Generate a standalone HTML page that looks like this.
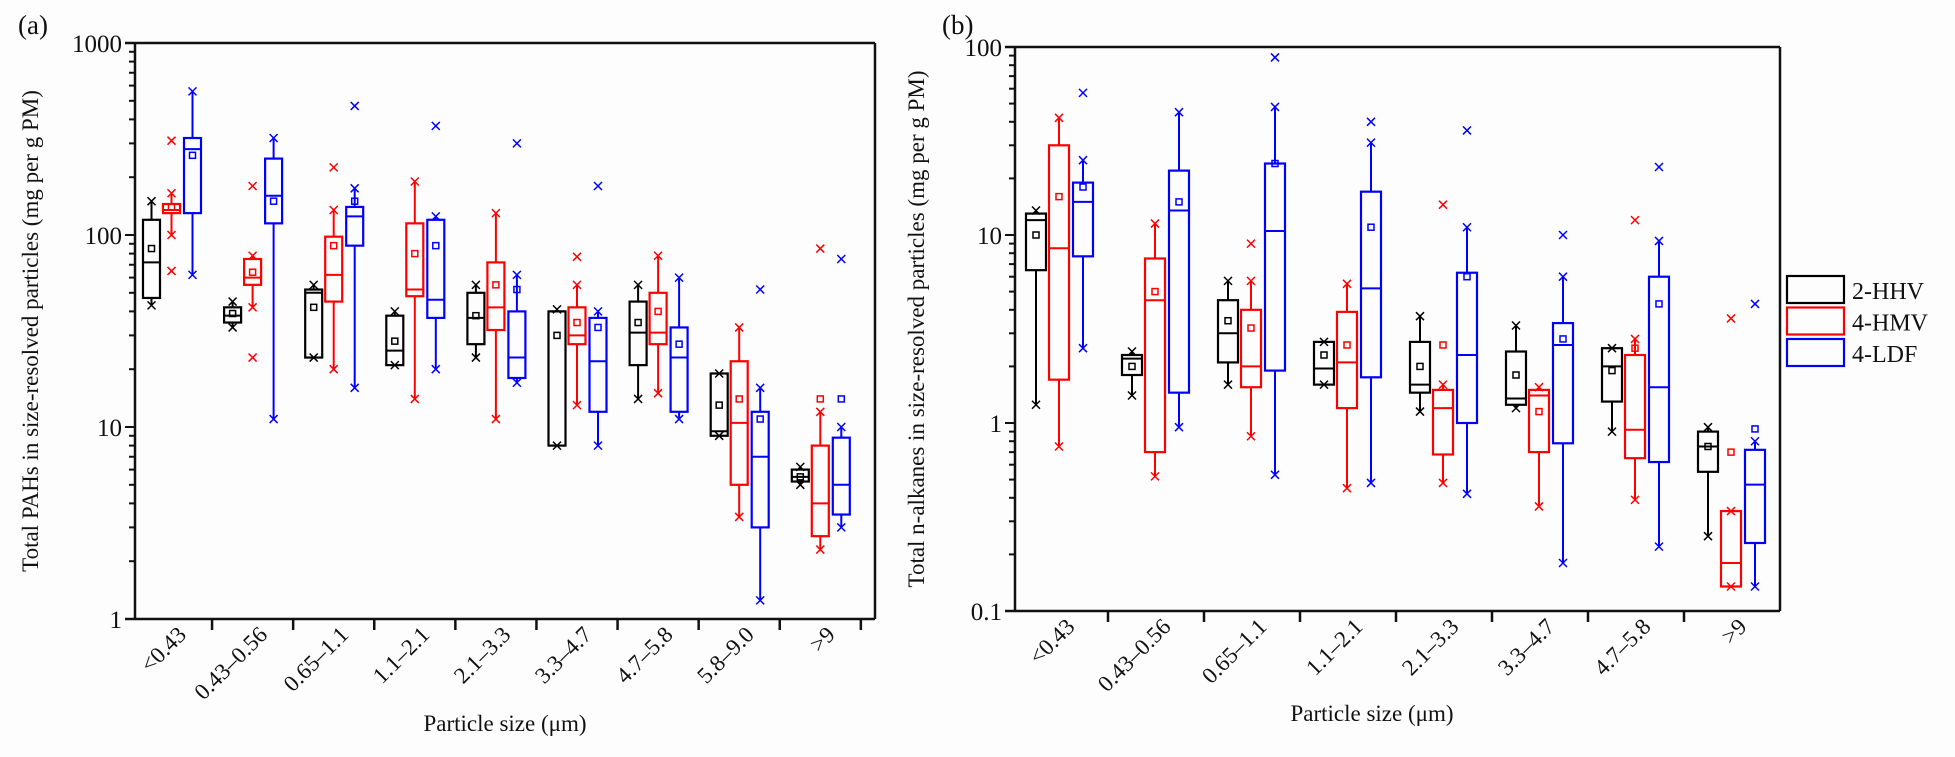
<!DOCTYPE html>
<html><head><meta charset="utf-8"><style>
html,body{margin:0;padding:0;background:#fff;}
svg{display:block;font-family:"Liberation Serif",serif;}
</style></head><body>
<svg id="chart" width="1955" height="757" viewBox="0 0 1955 757" xmlns="http://www.w3.org/2000/svg">
<rect x="0" y="0" width="1955" height="757" fill="#fdfdfd"/>
<g id="pa"></g>
<g id="pb"></g>
<g id="legend"></g>
</svg>
<script>
const NS="http://www.w3.org/2000/svg";
const seriesNames=["2-HHV","4-HMV","4-LDF"];
const seriesColors=["#000","#ff0000","#0000ff"];
// Panel A data: [whiskerLow, q1, median, q3, whiskerHigh, mean]
const catsA=["<0.43","0.43\u20130.56","0.65\u20131.1","1.1\u20132.1","2.1\u20133.3","3.3\u20134.7","4.7\u20135.8","5.8\u20139.0",">9"];
const a_HHV=[[43,47,72,120,150,85],[33,35,38,42,45,39],[23,23,50,52,55,42],[21,21,25,38,40,28],[23,27,37,50,55,38],[8,8,40,40,41,30],[14,21,31,45,55,35],[9,9,9.5,19,19,13],[5,5.2,5.5,6,6.2,5.5]];
const a_HMV=[[100,130,135,145,165,140],[42,55,60,75,78,64],[20,45,62,98,135,88],[14,48,52,115,190,80],[11,32,42,72,130,55],[13,27,30,42,55,35],[15,27,31,50,78,40],[3.4,5,10.5,22,33,14],[2.3,2.7,4,8,12,14]];
const a_LDF=[[62,130,280,320,560,260],[11,115,160,250,320,150],[16,88,125,140,175,150],[20,37,46,120,125,88],[17,18,23,40,62,52],[8,12,22,37,40,33],[11,12,23,33,60,27],[1.25,3,7,12,16,11],[3,3.5,5,8.8,10,14]];
const a_out_HHV=[[],[],[],[],[],[],[],[],[]];
const a_out_HMV=[[310,65],[180,23],[225],[],[],[77],[],[],[85]];
const a_out_LDF=[[],[],[470],[370],[300],[180],[],[52],[75]];
// Panel B data
const catsB=["<0.43","0.43\u20130.56","0.65\u20131.1","1.1\u20132.1","2.1\u20133.3","3.3\u20134.7","4.7\u20135.8",">9"];
const b_HHV=[[1.25,6.5,12,13,13.5,10],[1.4,1.8,2.2,2.3,2.4,2.0],[1.6,2.1,3,4.5,5.7,3.5],[1.6,1.6,1.95,2.7,2.7,2.3],[1.15,1.45,1.6,2.7,3.7,2.0],[1.2,1.25,1.35,2.4,3.3,1.8],[0.9,1.3,2.0,2.5,2.5,1.9],[0.25,0.55,0.75,0.9,0.95,0.75]];
const b_HMV=[[0.75,1.7,8.5,30,42,16],[0.52,0.7,4.5,7.5,11.5,5],[0.85,1.55,2,4,5.7,3.2],[0.45,1.2,2.1,3.9,5.5,2.6],[0.48,0.68,1.2,1.5,1.6,2.6],[0.36,0.7,1.4,1.5,1.55,1.15],[0.39,0.65,0.92,2.3,2.8,2.5],[0.135,0.135,0.18,0.34,0.34,0.7]];
const b_LDF=[[2.5,7.7,15,19,25,18],[0.95,1.45,13.5,22,45,15],[0.53,1.9,10.5,24,48,24],[0.48,1.75,5.2,17,31,11],[0.42,1.0,2.3,6.3,11,6],[0.18,0.78,2.6,3.4,6,2.8],[0.22,0.62,1.55,6,9.3,4.3],[0.135,0.23,0.47,0.72,0.8,0.93]];
const b_out_HHV=[[],[],[],[],[],[],[],[]];
const b_out_HMV=[[],[],[9],[],[14.5],[],[12],[3.6]];
const b_out_LDF=[[57],[],[88],[40],[36],[10],[23],[4.3]];
const ticksA=[1,10,100,1000];
const ticksB=[0.1,1,10,100];

function el(parent,tag,attrs,name,inter){const e=document.createElementNS(NS,tag);for(const k in attrs)e.setAttribute(k,attrs[k]);


parent.appendChild(e);return e;}

function panel(g,cfg){
  const {left,right,top,bottom,ymin,ymax,cats,c0,cw,off,bw,series,outs,ticks,title,label,labx,xtitleX,xtitleY,ytitleX}=cfg;
  const dec=Math.log10(ymax)-Math.log10(ymin);
  const y=v=>bottom-(Math.log10(v)-Math.log10(ymin))/dec*(bottom-top);
  const x=i=>c0+i*cw;
  el(g,'line',{x1:left-10,y1:top,x2:right,y2:top,stroke:'#111','stroke-width':2.5},'top-axis-line',false);
  el(g,'line',{x1:right,y1:top,x2:right,y2:bottom,stroke:'#111','stroke-width':2.5},'right-axis-line',false);
  el(g,'line',{x1:left,y1:top,x2:left,y2:bottom,stroke:'#111','stroke-width':2.5},'y-axis-line',false);
  el(g,'line',{x1:left-10,y1:bottom,x2:right,y2:bottom,stroke:'#111','stroke-width':2.5},'x-axis-line',false);
  for(let d=0;d<ticks.length;d++){
    const v=ticks[d];
    el(g,'line',{x1:left-10,y1:y(v),x2:left,y2:y(v),stroke:'#111','stroke-width':2},'y-major-tick',false);
    const t=el(g,'text',{x:left-13,y:y(v)+9,'text-anchor':'end','font-size':25,fill:'#111'},'y-tick-label',false);t.textContent=String(v);
    if(d<ticks.length-1){for(let m=2;m<=9;m++){const yy=y(v*m);
      el(g,'line',{x1:left-6,y1:yy,x2:left,y2:yy,stroke:'#111','stroke-width':2},'y-minor-tick',false);}}
  }
  for(let i=0;i<cats.length;i++){
    const bx=x(i)+cw/2;
    if(bx<right-5) el(g,'line',{x1:bx,y1:bottom,x2:bx,y2:bottom+11,stroke:'#111','stroke-width':2.5},'x-tick',false);
    const t=el(g,'text',{x:0,y:0,'text-anchor':'end','font-size':23,fill:'#111',transform:`translate(${x(i)+16},${bottom+17}) rotate(-45)`},'x-tick-label',false);
    t.textContent=cats[i];
  }
  for(let s=0;s<3;s++){
    const col=seriesColors[s];
    for(let i=0;i<cats.length;i++){
      const d=series[s][i];const cx=x(i)+off[s];
      const bg=el(g,'g',{},`box-${seriesNames[s].toLowerCase()}-${i}`,false);
      el(bg,'line',{x1:cx,y1:y(d[0]),x2:cx,y2:y(d[1]),stroke:col,'stroke-width':2},'whisker-low',false);
      el(bg,'line',{x1:cx,y1:y(d[3]),x2:cx,y2:y(d[4]),stroke:col,'stroke-width':2},'whisker-high',false);
      el(bg,'rect',{x:cx-bw/2,y:y(d[3]),width:bw,height:Math.max(1,y(d[1])-y(d[3])),fill:'none',stroke:col,'stroke-width':2.2},'box-iqr',false);
      el(bg,'line',{x1:cx-bw/2,y1:y(d[2]),x2:cx+bw/2,y2:y(d[2]),stroke:col,'stroke-width':2},'box-median',false);
      el(bg,'rect',{x:cx-3,y:y(d[5])-3,width:6,height:6,fill:'none',stroke:col,'stroke-width':1.5},'box-mean',false);
      [d[0],d[4]].forEach(v=>{const yy=y(v);
        el(bg,'path',{d:`M${cx-4} ${yy-4}L${cx+4} ${yy+4}M${cx+4} ${yy-4}L${cx-4} ${yy+4}`,stroke:col,'stroke-width':1.5},'extreme-marker',false);});
      outs[s][i].forEach(v=>{const yy=y(v);
        el(bg,'path',{d:`M${cx-4} ${yy-4}L${cx+4} ${yy+4}M${cx+4} ${yy-4}L${cx-4} ${yy+4}`,stroke:col,'stroke-width':1.5},'outlier-marker',false);});
    }
  }
  const yt=el(g,'text',{x:0,y:0,'text-anchor':'middle','font-size':23,fill:'#111',transform:`translate(${ytitleX},${(top+bottom)/2}) rotate(-90)`},'y-axis-title',false);yt.textContent=title;
  const xt=el(g,'text',{x:xtitleX,y:xtitleY,'text-anchor':'middle','font-size':23,fill:'#111'},'x-axis-title',false);xt.textContent='Particle size (\u03bcm)';
  const pl=el(g,'text',{x:labx,y:34,'font-size':27,fill:'#111'},'panel-label',false);pl.textContent=label;
}
panel(document.getElementById('pa'),{left:135,right:875,top:43,bottom:619,ymin:1,ymax:1000,cats:catsA,c0:171.5,cw:81.1,off:[-20,0,21],bw:17,
  series:[a_HHV,a_HMV,a_LDF],outs:[a_out_HHV,a_out_HMV,a_out_LDF],ticks:ticksA,title:'Total PAHs in size-resolved particles (mg per g PM)',label:'(a)',labx:18,xtitleX:505,xtitleY:731,ytitleX:38});
panel(document.getElementById('pb'),{left:1015,right:1780,top:47,bottom:611,ymin:0.1,ymax:100,cats:catsB,c0:1060,cw:96,off:[-24,-1,23],bw:20,
  series:[b_HHV,b_HMV,b_LDF],outs:[b_out_HHV,b_out_HMV,b_out_LDF],ticks:ticksB,title:'Total n-alkanes in size-resolved particles (mg per g PM)',label:'(b)',labx:942,xtitleX:1372,xtitleY:721,ytitleX:924});
const lg=document.getElementById('legend');
for(let s=0;s<3;s++){
  const yy=276+s*31.5;
  const item=el(lg,'g',{},`legend-entry-${seriesNames[s].toLowerCase()}`,true);
  el(item,'rect',{x:1787,y:yy,width:57,height:27,fill:'none',stroke:seriesColors[s],'stroke-width':2.2},'legend-swatch',false);
  const t=el(item,'text',{x:1852,y:yy+23,'font-size':24,fill:'#111'},'legend-label',false);t.textContent=seriesNames[s];
}
</script>
</body></html>
